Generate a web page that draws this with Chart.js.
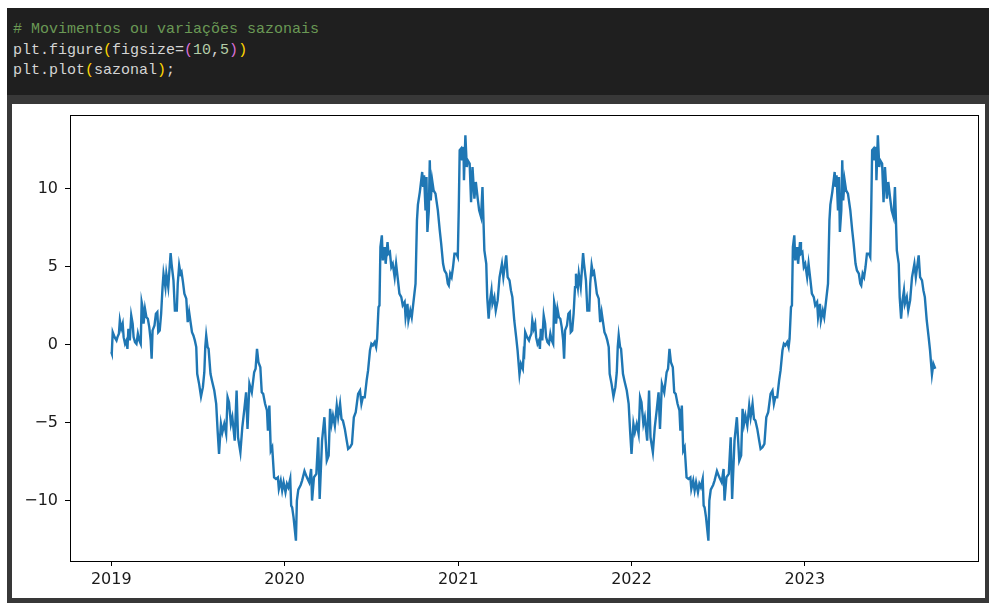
<!DOCTYPE html>
<html>
<head>
<meta charset="utf-8">
<script src="https://cdn.jsdelivr.net/npm/chart.js@4.4.1/dist/chart.umd.min.js"></script>
<style>
  body { margin: 0; width: 989px; height: 603px; overflow: hidden; position: relative; background: #fff; }
  #cell { position: absolute; left: 7px; top: 8px; width: 982px; height: 87px; background: #1f1f1f; }
  #cell pre { margin: 0; position: absolute; left: 6px; top: 12px; font: 15px/20.5px "Liberation Mono", "DejaVu Sans Mono", monospace; color: #d4d4d4; }
  .c { color: #6a9955; }
  .n { color: #b5cea8; }
  .b1 { color: #ffd700; }
  .b2 { color: #da70d6; }
  #bar { position: absolute; left: 7px; top: 95px; width: 982px; height: 9px; background: #383838; }
  #out { position: absolute; left: 7px; top: 104px; width: 982px; height: 499px; background: #383838; }
  #chartBox { position: absolute; left: 5px; top: 0; width: 973px; height: 494px; background: #fff; }
</style>
</head>
<body>
<div id="cell"><pre><span class="c"># Movimentos ou variações sazonais</span>
plt.figure<span class="b1">(</span>figsize=<span class="b2">(</span><span class="n">10</span>,<span class="n">5</span><span class="b2">)</span><span class="b1">)</span>
plt.plot<span class="b1">(</span>sazonal<span class="b1">)</span>;</pre></div>
<div id="bar"></div>
<div id="out"><div id="chartBox"><canvas id="grafico" width="973" height="494"></canvas></div></div>
<script>
// dias desde 2019-01-01
const dias = [
  0,1,3,7,11,13,16,18,21,24,26,29,32,34,36,39,42,45,47,50,53,56,59,62,64,66,68,71,74,77,80,83,85,87,91,94,97,99,102,105,
  108,110,114,116,120,125,127,131,134,138,140,143,146,148,151,154,158,161,164,167,170,173,176,179,181,185,189,193,196,198,
  200,203,205,209,212,217,221,224,227,231,234,238,242,245,248,252,255,260,264,267,272,276,280,284,287,291,296,301,304,307,
  310,314,317,320,324,328,330,333,336,339,343,347,351,353,357,360,363,367,370,373,377,379,381,384,389,391,394,399,402,407,
  412,417,421,423,427,432,436,439,444,449,454,458,461,464,467,471,475,478,482,485,488,492,496,499,503,507,511,515,520,524,
  527,530,534,538,541,545,548,551,555,558,560,563,565,567,570,572,576,578,582,584,587,590,593,597,600,604,607,611,614,618,
  620,624,626,630,633,637,641,644,646,650,655,657,659,662,664,666,669,671,673,676,679,683,688,692,695,699,702,706,709,711,
  714,717,720,723,727,730,732,734,737,739,742,743,746,749,751,755,758,761,765,768,772,775,779,782,786,790,792,795,798,801,
  803,807,810,814,818,823,826,832,835,839,842,845,849,853,856,860,863,867,
  869,870,872,876,880,882,885,887,890,893,895,898,901,903,905,908,911,914,916,919,922,925,928,931,933,935,937,940,943,946,
  949,952,954,956,960,963,966,968,971,974,977,979,983,985,989,994,996,1000,1003,1007,1009,1012,1015,1017,1020,1023,1027,1030,1033,1036,
  1039,1042,1045,1048,1050,1054,1058,1062,1065,1067,1069,1072,1074,1078,1081,1086,1090,1093,1096,1100,1103,1107,1111,1114,1117,1121,1124,1129,1133,1136,
  1141,1145,1149,1153,1156,1160,1165,1170,1173,1176,1179,1183,1186,1189,1193,1197,1199,1202,1205,1208,1212,1216,1220,1222,1226,1229,1232,1236,1239,1242,
  1246,1248,1250,1253,1258,1260,1263,1268,1271,1276,1281,1286,1290,1292,1296,1301,1305,1308,1313,1318,1323,1327,1330,1333,1336,1340,1344,1347,1351,1354,
  1357,1361,1365,1368,1372,1376,1380,1384,1389,1393,1396,1399,1403,1407,1410,1414,1417,1420,1424,1427,1429,1432,1434,1436,1439,1441,1445,1447,1451,1453,
  1456,1459,1462,1466,1469,1473,1476,1480,1483,1487,1489,1493,1495,1499,1502,1506,1510,1513,1515,1519,1524,1526,1528,1531,1533,1535,1538,1540,1542,1545,
  1548,1552,1557,1561,1564,1568,1571,1575,1578,1580,1583,1586,1589,1592,1596,1599,1601,1603,1606,1608,1611,1612,1615,1618,1620,1624,1627,1630,1634,1637,
  1641,1644,1648,1651,1655,1659,1661,1664,1667,1670,1672,1676,1679,1683,1687,1692,1695,1701,1704,1708,1711,1714,1718,1722,1725,1729,1732,1736
];

const sazonal = [
  -0.47,-0.56,0.81,0.49,0.28,0.49,0.71,1.56,1.03,1.35,0.49,0.06,0.28,-0.26,1.03,0.28,1.88,1.35,0.49,0.17,
  0.06,0.71,0.28,0.06,2.74,2.42,1.35,2.31,1.77,1.67,1.13,0.28,-0.90,0.92,1.24,1.99,2.1,0.81,0.92,1.99,
  3.70,4.56,3.70,4.56,3.70,5.89,5.2,4.13,2.2,2.2,3.92,5.1,4.56,4.67,4.02,3.28,2.96,1.45,2.1,1.45,
  0.81,0.6,0.28,-0.15,-1.86,-2.51,-3.32,-2.72,-1.76,-0.15,0.6,-0.15,-0.26,-1.86,-2.29,-2.94,-3.79,-5.51,-7.0,-5.08,
  -5.62,-5.08,-5.72,-3.37,-3.69,-5.08,-4.65,-6.15,-2.94,-5.94,-6.90,-5.3,-4.22,-3.05,-5.40,-2.51,-3.05,-1.76,-1.54,-0.26,
  -1.12,-1.44,-3.05,-3.15,-3.79,-4.22,-5.51,-3.9,-6.79,-6.58,-8.51,-8.61,-8.51,-9.25,-8.72,-9.36,-8.83,-9.47,-8.93,-9.15,
  -8.61,-10.33,-10.44,-11.08,-12.58,-10.01,-9.3,-9.0,-8.72,-8.1,-8.51,-8.83,-7.97,-10.0,-8.5,-8.29,-5.94,-9.9,-6.15,-4.65,
  -7.44,-7.11,-4.11,-5.08,-4.54,-5.19,-3.9,-4.65,-3.79,-4.76,-4.87,-5.40,-6.15,-6.69,-6.58,-6.36,-4.65,-4.33,-3.15,-2.94,
  -3.79,-3.37,-3.37,-2.29,-1.65,-0.37,0.06,-0.04,0.17,-0.15,0.39,2.42,2.53,6.27,7.02,5.42,6.27,5.2,6.59,5.85,
  5.95,4.99,5.2,4.34,5.2,4.13,3.28,3.06,2.53,2.74,1.77,2.63,1.56,2.2,1.77,2.85,3.92,8.0,9.0,9.8,
  11.09,10.13,10.88,8.63,10.77,7.24,8.63,11.84,9.27,10.56,9.92,9.7,8.63,7.35,6.49,5.2,4.77,4.56,3.92,3.81,
  4.56,4.34,4.99,5.85,5.85,5.63,8.63,12.49,12.6,11.84,12.7,10.56,13.45,11.41,11.84,11.63,9.16,11.41,9.38,10.45,
  9.38,8.63,8.2,10.13,6.06,5.2,3.06,1.67,2.85,3.49,2.63,3.06,2.2,2.85,4.34,5.2,4.34,5.74,4.34,4.13,
  3.49,3.06,1.56,0.49,-0.37,-1.9,-1.22,-1.54,
  -0.47,-0.56,0.81,0.49,0.28,0.49,0.71,1.56,1.03,1.35,0.49,0.06,0.28,-0.26,1.03,0.28,1.88,1.35,0.49,0.17,
  0.06,0.71,0.28,0.06,2.74,2.42,1.35,2.31,1.77,1.67,1.13,0.28,-0.90,0.92,1.24,1.99,2.1,0.81,0.92,1.99,
  3.70,4.56,3.70,4.56,3.70,5.89,5.2,4.13,2.2,2.2,3.92,5.1,4.56,4.67,4.02,3.28,2.96,1.45,2.1,1.45,
  0.81,0.6,0.28,-0.15,-1.86,-2.51,-3.32,-2.72,-1.76,-0.15,0.6,-0.15,-0.26,-1.86,-2.29,-2.94,-3.79,-5.51,-7.0,-5.08,
  -5.62,-5.08,-5.72,-3.37,-3.69,-5.08,-4.65,-6.15,-2.94,-5.94,-6.90,-5.3,-4.22,-3.05,-5.40,-2.51,-3.05,-1.76,-1.54,-0.26,
  -1.12,-1.44,-3.05,-3.15,-3.79,-4.22,-5.51,-3.9,-6.79,-6.58,-8.51,-8.61,-8.51,-9.25,-8.72,-9.36,-8.83,-9.47,-8.93,-9.15,
  -8.61,-10.33,-10.44,-11.08,-12.58,-10.01,-9.3,-9.0,-8.72,-8.1,-8.51,-8.83,-7.97,-10.0,-8.5,-8.29,-5.94,-9.9,-6.15,-4.65,
  -7.44,-7.11,-4.11,-5.08,-4.54,-5.19,-3.9,-4.65,-3.79,-4.76,-4.87,-5.40,-6.15,-6.69,-6.58,-6.36,-4.65,-4.33,-3.15,-2.94,
  -3.79,-3.37,-3.37,-2.29,-1.65,-0.37,0.06,-0.04,0.17,-0.15,0.39,2.42,2.53,6.27,7.02,5.42,6.27,5.2,6.59,5.85,
  5.95,4.99,5.2,4.34,5.2,4.13,3.28,3.06,2.53,2.74,1.77,2.63,1.56,2.2,1.77,2.85,3.92,8.0,9.0,9.8,
  11.09,10.13,10.88,8.63,10.77,7.24,8.63,11.84,9.27,10.56,9.92,9.7,8.63,7.35,6.49,5.2,4.77,4.56,3.92,3.81,
  4.56,4.34,4.99,5.85,5.85,5.63,8.63,12.49,12.6,11.84,12.7,10.56,13.45,11.41,11.84,11.63,9.16,11.41,9.38,10.45,
  9.38,8.63,8.2,10.13,6.06,5.2,3.06,1.67,2.85,3.49,2.63,3.06,2.2,2.85,4.34,5.2,4.34,5.74,4.34,4.13,
  3.49,3.06,1.56,0.49,-0.37,-1.9,-1.22,-1.54
];

const anos = ['2019', '2020', '2021', '2022', '2023'];
const inicioAno = [0, 365, 731, 1096, 1461];
const yTicks = [-10, -5, 0, 5, 10];

const fonte = { family: 'DejaVu Sans', size: 16 };

// moldura superior/direita do eixo (estilo matplotlib)
const moldura = {
  id: 'moldura',
  afterDraw(chart) {
    const { ctx, chartArea: a } = chart;
    ctx.save();
    ctx.strokeStyle = '#000';
    ctx.lineWidth = 1;
    ctx.strokeRect(Math.round(a.left) + 0.5, Math.round(a.top) + 0.5,
      Math.round(a.right - a.left), Math.round(a.bottom - a.top));
    ctx.restore();
  }
};

const ctx = document.getElementById('grafico').getContext('2d');
new Chart(ctx, {
  type: 'line',
  data: {
    datasets: [{
      data: dias.map((d, i) => ({ x: d, y: sazonal[i] })),
      borderColor: '#1f77b4',
      borderWidth: 2.4,
      pointRadius: 0,
      tension: 0,
      fill: false
    }]
  },
  options: {
    responsive: false,
    animation: false,
    devicePixelRatio: 1,
    layout: { padding: { top: 11, right: 7, left: 0, bottom: 0 } },
    plugins: { legend: { display: false }, tooltip: { enabled: false } },
    scales: {
      x: {
        type: 'linear',
        min: -87,
        max: 1826,
        afterBuildTicks: (s) => { s.ticks = inicioAno.map(v => ({ value: v })); },
        afterFit: (s) => { s.height = 37; s.paddingLeft = 0; s.paddingRight = 0; },
        ticks: {
          callback: (v, i) => anos[i],
          font: fonte,
          color: '#1a1a1a',
          padding: 4,
          maxRotation: 0
        },
        grid: { drawOnChartArea: false, drawTicks: true, tickLength: 5, color: '#000' },
        border: { display: true, color: '#000', width: 1 }
      },
      y: {
        min: -13.88,
        max: 14.75,
        afterBuildTicks: (s) => { s.ticks = yTicks.map(v => ({ value: v })); },
        afterFit: (s) => { s.width = 58; s.paddingTop = 0; s.paddingBottom = 0; },
        ticks: {
          callback: (v) => (v < 0 ? '\u2212' + Math.abs(v) : String(v)),
          font: fonte,
          color: '#1a1a1a',
          padding: 7
        },
        grid: { drawOnChartArea: false, drawTicks: true, tickLength: 5, color: '#000' },
        border: { display: true, color: '#000', width: 1 }
      }
    }
  },
  plugins: [moldura]
});
</script>
</body>
</html>
